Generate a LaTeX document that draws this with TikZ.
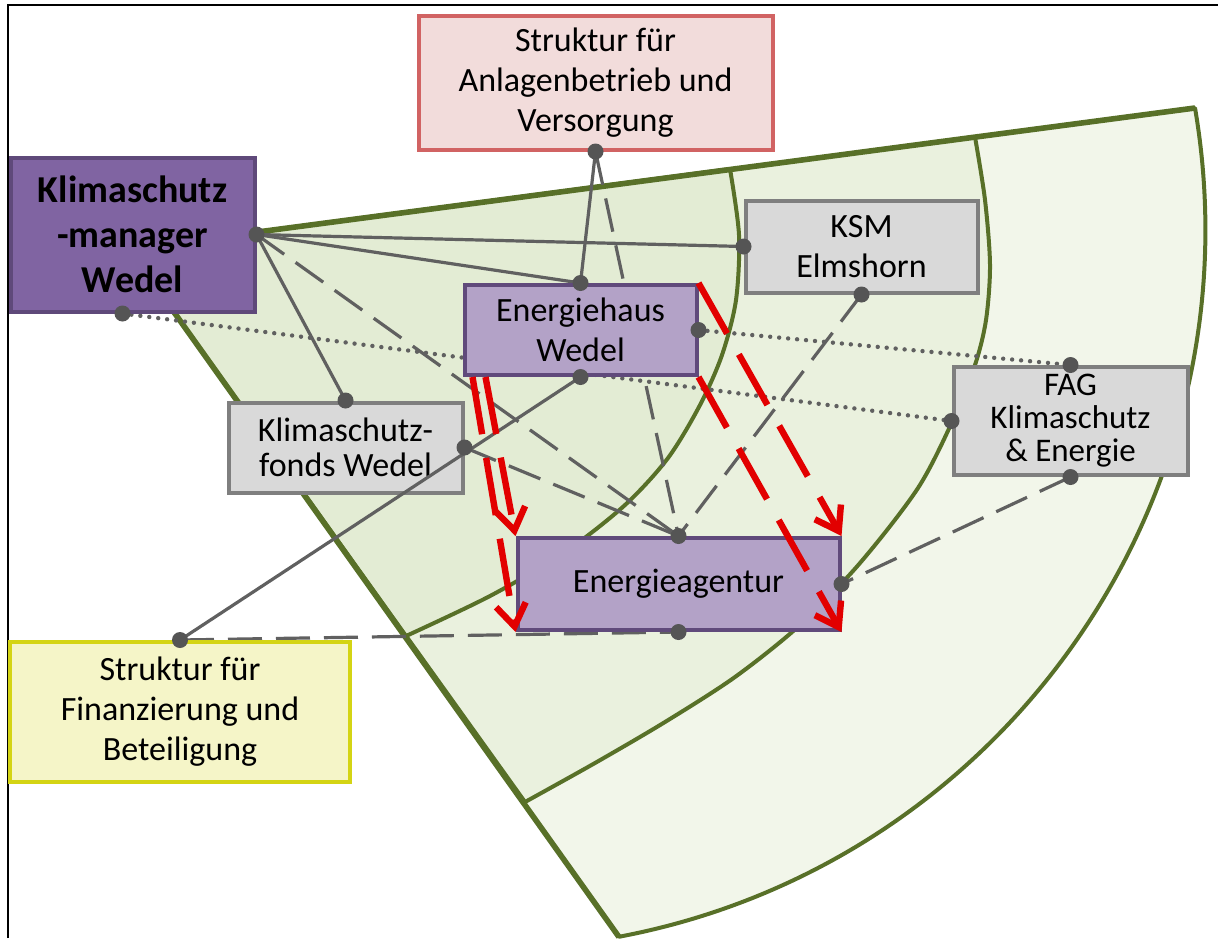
\documentclass[tikz,border=0pt]{standalone}
\usepackage{fontspec}
\setmainfont{Carlito}
\usetikzlibrary{arrows.meta}
\definecolor{fanline}{RGB}{88,112,40}
\definecolor{fanin}{RGB}{227,236,212}
\definecolor{fanmid}{RGB}{234,241,222}
\definecolor{fanout}{RGB}{242,246,234}
\definecolor{kmwfill}{RGB}{128,100,162}
\definecolor{kmwdraw}{RGB}{95,73,122}
\definecolor{lilafill}{RGB}{179,162,199}
\definecolor{liladraw}{RGB}{96,74,123}
\definecolor{grayfill}{RGB}{217,217,217}
\definecolor{graydraw}{RGB}{127,127,127}
\definecolor{pinkfill}{RGB}{242,220,219}
\definecolor{pinkdraw}{RGB}{209,99,99}
\definecolor{yelfill}{RGB}{245,245,200}
\definecolor{yeldraw}{RGB}{212,212,20}
\definecolor{linkgray}{RGB}{96,96,96}
\definecolor{dotgray}{RGB}{85,85,85}
\definecolor{arrowred}{RGB}{226,0,0}
\pgfdeclarelayer{back}
\pgfdeclarelayer{links}
\pgfdeclarelayer{front}
\pgfsetlayers{back,links,main,front}

\begin{document}
\begin{tikzpicture}[
  x=0.5pt, y=-0.5pt,
  font=\fontsize{17}{20}\selectfont,
  box/.style={draw,line width=2pt,align=center,inner sep=0pt},
  kmwbox/.style={box,fill=kmwfill,draw=kmwdraw,font=\fontsize{19}{22.5}\selectfont\bfseries},
  lilabox/.style={box,fill=lilafill,draw=liladraw},
  graybox/.style={box,fill=grayfill,draw=graydraw},
  pinkbox/.style={box,fill=pinkfill,draw=pinkdraw},
  yelbox/.style={box,fill=yelfill,draw=yeldraw},
  region/.style={draw=fanline,line width=2pt,line join=round},
  link/.style={linkgray,line width=1.6pt},
  dashlink/.style={link,dash pattern=on 17pt off 7pt},
  dotlink/.style={link,line width=2.2pt,line cap=round,dash pattern=on 0pt off 4.5pt},
  redarrow/.style={arrowred,line width=3.2pt,dash pattern=on 29pt off 12pt,-{Straight Barb[length=11pt,width=15pt]}}
]
\useasboundingbox (0,0) rectangle (1218,938);
\draw[line width=1.2pt] (8,938) -- (8,5) -- (1218,5);

\node[kmwbox, minimum width=122pt, minimum height=77pt] (kmw) at (132.5,234.5) {Klimaschutz\\-manager\\Wedel};
\node[pinkbox, minimum width=177pt, minimum height=67pt] (anlage) at (595.5,82.5) {Struktur für\\Anlagenbetrieb und\\Versorgung};
\node[graybox, minimum width=116pt, minimum height=46pt] (ksm) at (861.5,246.5) {KSM\\Elmshorn};
\node[lilabox, minimum width=116pt, minimum height=45pt] (ehaus) at (580.5,330) {Energiehaus\\Wedel};
\node[graybox, minimum width=117pt, minimum height=45pt, font=\fontsize{17}{17.5}\selectfont] (fonds) at (345.5,447.5) {Klimaschutz-\\fonds Wedel};
\node[graybox, minimum width=117pt, minimum height=54pt, font=\fontsize{16.5}{16.5}\selectfont] (fag) at (1070.5,421) {FAG\\Klimaschutz\\\& Energie};
\node[lilabox, minimum width=161pt, minimum height=46pt] (agentur) at (678.5,584) {Energieagentur};
\node[yelbox, minimum width=170pt, minimum height=70pt] (finanz) at (180,712) {Struktur für\\Finanzierung und\\Beteiligung};

\coordinate (apex) at (129,249);
\coordinate (kmwS) at ([xshift=-5pt]kmw.south);
\coordinate (ehausA) at ([xshift=11.5pt]ehaus.south west);
\coordinate (ehausB) at ([xshift=5pt]ehaus.south west);

\begin{pgfonlayer}{back}
\filldraw[region, fill=fanout] (apex) -- (1195,108) arc[start angle=-9.7, end angle=79.3, radius=720] -- cycle;
\filldraw[region, fill=fanmid] (apex) -- plot[smooth] coordinates {(975,137) (985,200) (990,265) (986,320) (975,365) (953,420) (918,488) (860,563) (800,625) (735,677) (665,722) (595,763) (525,802)} -- cycle;
\filldraw[region, fill=fanin] (apex) -- plot[smooth] coordinates {(730,169) (739,235) (736,300) (722,355) (700,405) (668,458) (625,505) (565,552) (490,596) (406,636)} -- cycle;
\draw[fanline, line width=2.8pt, line join=round] (1195,108) -- (apex) -- (619,937);
\end{pgfonlayer}

\begin{pgfonlayer}{links}
\draw[link] (kmw.east) -- (ksm.west);
\draw[link] (kmw.east) -- (ehaus.north);
\draw[link] (kmw.east) -- (fonds.north);
\draw[link] (anlage.south) -- (ehaus.north);
\draw[dashlink] (kmw.east) -- (agentur.north);
\draw[dashlink] (fonds.east) -- (agentur.north);
\draw[dashlink] (anlage.south) -- (agentur.north);
\draw[dashlink] (ksm.south) -- (agentur.north);
\draw[dashlink] (fag.south) -- (agentur.east);
\draw[dashlink] (finanz.north) -- (agentur.south);
\draw[dotlink] (kmwS) -- (fag.west);
\draw[dotlink] (ehaus.east) -- (fag.north);
\end{pgfonlayer}

\begin{pgfonlayer}{front}
\draw[link] (ehaus.south) -- (finanz.north);
\draw[redarrow] (ehaus.north east) -- (agentur.north east);
\draw[redarrow] (ehaus.south east) -- (agentur.south east);
\draw[redarrow] (ehausA) -- (agentur.north west);
\draw[redarrow] (ehausB) -- (agentur.south west);
\foreach \p in {kmw.east,kmwS,anlage.south,ehaus.north,ehaus.east,ehaus.south,ksm.west,ksm.south,fonds.north,fonds.east,fag.north,fag.west,fag.south,agentur.north,agentur.east,agentur.south,finanz.north}
  \fill[dotgray] (\p) circle[radius=4pt];
\end{pgfonlayer}
\end{tikzpicture}
\end{document}
